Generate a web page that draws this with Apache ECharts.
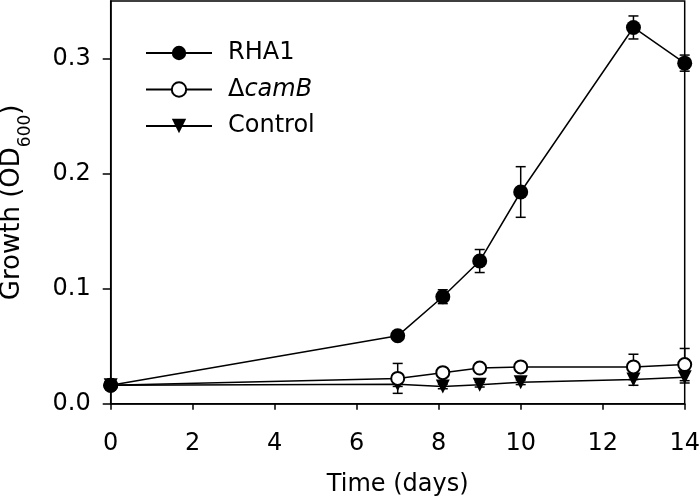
<!DOCTYPE html>
<html>
<head>
<meta charset="utf-8">
<script src="https://cdn.jsdelivr.net/npm/echarts@6/dist/echarts.min.js"></script>
<style>
html,body{margin:0;padding:0;background:#fff;}
#chart{width:700px;height:502px;}
</style>
</head>
<body>
<div id="chart"></div>
<script>
// ---- data ----
const days = [0, 7, 8.1, 9, 10, 12.75, 14];
const rha1 = [0.016, 0.059, 0.093, 0.124, 0.184, 0.327, 0.296];
const rha1Err = [0.001, 0.002, 0.006, 0.010, 0.022, 0.010, 0.007];
const camB = [0.016, 0.022, 0.027, 0.031, 0.032, 0.032, 0.034];
const camBErr = [0.001, 0.013, 0.002, 0.002, 0.002, 0.011, 0.014];
const control = [0.016, 0.017, 0.015, 0.0165, 0.0186, 0.021, 0.023];
const controlErr = [0.001, 0.002, 0.002, 0.002, 0.002, 0.005, 0.005];
const xTicks = [0, 2, 4, 6, 8, 10, 12, 14];
const yTicks = [0, 0.1, 0.2, 0.3];
const seriesNames = ['RHA1', '\u0394camB', 'Control'];

const FONT = 'DejaVu Sans';
const pts = (ys) => days.map((d, i) => [d, ys[i]]);
const errPts = (ys, es) => days.map((d, i) => [d, ys[i], es[i]]);

function errRender(params, api) {
  const x = api.value(0), y = api.value(1), e = api.value(2);
  const top = api.coord([x, y + e]);
  const bot = api.coord([x, y - e]);
  const hw = 5;
  const st = { stroke: '#000', lineWidth: 1.5 };
  return {
    type: 'group',
    children: [
      { type: 'line', shape: { x1: top[0], y1: top[1], x2: bot[0], y2: bot[1] }, style: st },
      { type: 'line', shape: { x1: top[0] - hw, y1: top[1], x2: top[0] + hw, y2: top[1] }, style: st },
      { type: 'line', shape: { x1: bot[0] - hw, y1: bot[1], x2: bot[0] + hw, y2: bot[1] }, style: st }
    ]
  };
}

const chart = echarts.init(document.getElementById('chart'), null, { renderer: 'canvas' });
const option = {
  animation: false,
  backgroundColor: '#fff',
  textStyle: { fontFamily: FONT, color: '#000' },
  grid: {
    left: 110.7, right: 15.3, top: 1, bottom: 98.3,
    show: true, borderColor: '#000', borderWidth: 1.5,
    containLabel: false, outerBoundsMode: 'none'
  },
  legend: {
    data: seriesNames,
    orient: 'vertical',
    left: 140, top: 36, padding: 5,
    itemWidth: 66, itemHeight: 18, itemGap: 12.5,
    selectedMode: false,
    formatter: function (name) {
      return name === '\u0394camB' ? '{n|\u0394}{i|camB}' : '{n|' + name + '}';
    },
    textStyle: {
      fontFamily: FONT, fontSize: 24, color: '#000', lineHeight: 24,
      padding: [0, 0, 0, 11],
      rich: {
        n: { fontFamily: FONT, fontSize: 24, color: '#000', lineHeight: 24 },
        i: { fontFamily: FONT, fontSize: 24, color: '#000', lineHeight: 24, fontStyle: 'italic' }
      }
    }
  },
  xAxis: {
    type: 'value', min: 0, max: 14, interval: 2,
    name: 'Time (days)', nameLocation: 'middle', nameGap: 69,
    nameTextStyle: { fontFamily: FONT, fontSize: 24, color: '#000', lineHeight: 24 },
    axisLine: { show: true, onZero: false, lineStyle: { color: '#000', width: 1.5 } },
    axisTick: { show: true, length: 6, inside: false, lineStyle: { color: '#000', width: 1.5 } },
    axisLabel: { fontFamily: FONT, fontSize: 24, color: '#000', margin: 8, padding: [20, 0, 0, 0] },
    splitLine: { show: false }
  },
  yAxis: {
    type: 'value', min: 0, max: 0.35,
    name: 'Growth (OD{sub|600})', nameLocation: 'middle', nameGap: 77,
    nameTextStyle: {
      fontFamily: FONT, fontSize: 26, color: '#000', lineHeight: 42,
      rich: {
        sub: { fontFamily: FONT, fontSize: 17, color: '#000', verticalAlign: 'bottom' }
      }
    },
    axisLine: { show: true, onZero: false, lineStyle: { color: '#000', width: 1.5 } },
    axisTick: { show: true, length: 8, inside: false, lineStyle: { color: '#000', width: 1.5 }, customValues: yTicks },
    axisLabel: {
      fontFamily: FONT, fontSize: 24, color: '#000', margin: 20, customValues: yTicks,
      formatter: (v) => Number(v).toFixed(1)
    },
    splitLine: { show: false }
  },
  series: [
    { type: 'custom', name: 'errC', renderItem: errRender, data: errPts(control, controlErr), z: 1, clip: false, silent: true, encode: { x: 0, y: 1 } },
    { type: 'custom', name: 'errB', renderItem: errRender, data: errPts(camB, camBErr), z: 1, clip: false, silent: true, encode: { x: 0, y: 1 } },
    { type: 'custom', name: 'errR', renderItem: errRender, data: errPts(rha1, rha1Err), z: 1, clip: false, silent: true, encode: { x: 0, y: 1 } },
    {
      type: 'line', name: 'Control', data: pts(control), z: 2, clip: false,
      symbol: 'triangle', symbolRotate: 180, symbolSize: 14, showAllSymbol: true,
      lineStyle: { color: '#000', width: 1.5 },
      itemStyle: { color: '#000', borderWidth: 0 }
    },
    {
      type: 'line', name: '\u0394camB', data: pts(camB), z: 3, clip: false,
      symbol: 'emptyCircle', symbolSize: 13, showAllSymbol: true,
      lineStyle: { color: '#000', width: 1.5 },
      itemStyle: { color: '#000', borderColor: '#000', borderWidth: 2 }
    },
    {
      type: 'line', name: 'RHA1', data: pts(rha1), z: 4, clip: false,
      symbol: 'circle', symbolSize: 15, showAllSymbol: true,
      lineStyle: { color: '#000', width: 1.5 },
      itemStyle: { color: '#000', borderWidth: 0 }
    }
  ]
};
chart.setOption(option);
</script>
</body>
</html>
